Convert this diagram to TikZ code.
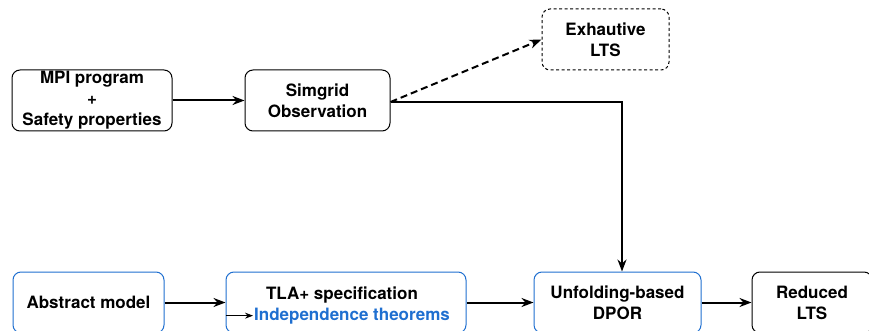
\documentclass[tikz,border=0pt]{standalone}
\usepackage{fontspec}
\setmainfont{TeX Gyre Heros}
\usetikzlibrary{arrows.meta}
\definecolor{specblue}{HTML}{1F6FD0}

\tikzset{
  box/.style={draw, rounded corners=8pt, line width=1pt, minimum height=61pt, align=center,
    inner sep=0pt, font=\fontsize{17}{21}\selectfont\bfseries},
  bluebox/.style={box, draw=specblue},
  flow/.style={line width=2pt, -{Stealth[length=12pt,width=9pt]}},
}

\begin{document}
\begin{tikzpicture}[x=1pt, y=-1pt]
  \useasboundingbox (0,0) rectangle (869,331);
  \node[box, minimum width=160pt] (mpi) at (92,100.5) {MPI program\\+\\Safety properties};
  \node[box, minimum width=145pt] (simgrid) at (317.5,100.5) {Simgrid\\Observation};
  \node[box, dash pattern=on 3pt off 2.5pt, minimum width=127pt] (exhaustive) at (605.5,39.5) {Exhautive\\LTS};

  \node[bluebox, minimum width=151pt] (abstract) at (88.5,302.5) {Abstract model};
  \node[bluebox, minimum width=240pt] (tla) at (346,302.5) {};
  \node[font=\fontsize{17}{21}\selectfont\bfseries, inner sep=0pt, anchor=base] (tlaspec) at (342,299) {TLA+ specification};
  \node[font=\fontsize{17}{21}\selectfont\bfseries, text=specblue, inner sep=1pt, anchor=base west] (indep) at (253,320) {Independence theorems};
  \node[bluebox, minimum width=167pt] (unfolding) at (617.5,302.5) {Unfolding-based\\DPOR};
  \node[box, minimum width=120pt] (reduced) at (812,302.5) {Reduced\\LTS};

  \draw[flow] (mpi) -- (simgrid);
  \draw[flow, dash pattern=on 7pt off 4pt] ([yshift=-1.5]simgrid.east) -- (exhaustive.west);
  \draw[flow] ([yshift=-1.5]simgrid.east) -| ([xshift=4.5]unfolding.north);
  \draw[flow] (abstract) -- (tla);
  \draw[flow] (tla) -- (unfolding);
  \draw[flow] (unfolding) -- (reduced);
  \draw[line width=1pt, -{Stealth[length=8pt,width=6pt]}] (tla.west |- indep.west) -- (indep.west);
\end{tikzpicture}
\end{document}
